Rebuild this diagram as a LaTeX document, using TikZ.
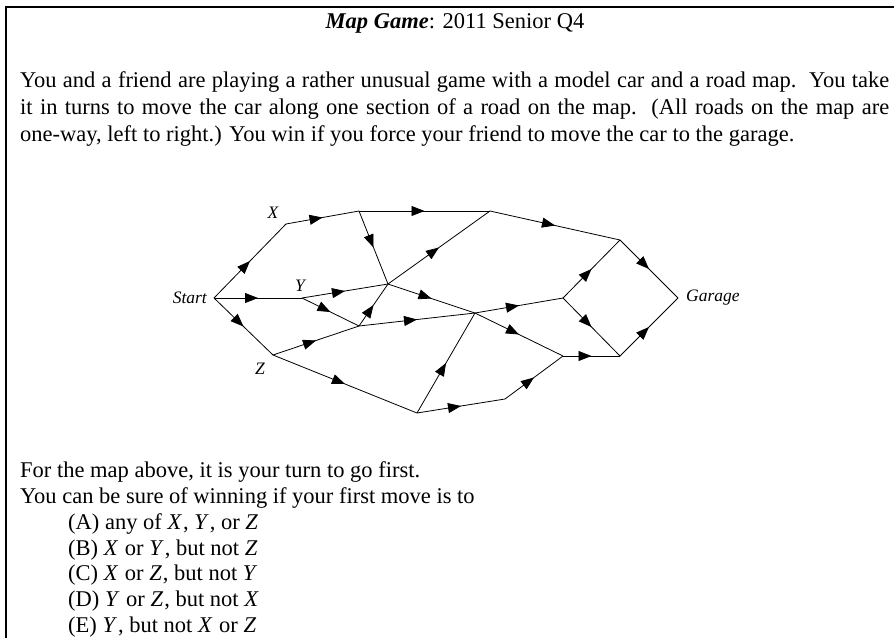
\documentclass[tikz,border=0pt]{standalone}
\usepackage{fontspec}
\setmainfont{Liberation Serif}
\usetikzlibrary{decorations.markings,arrows.meta}
\newcommand{\mv}[1]{\textit{#1}\kern1pt\relax}
\begin{document}
\begin{tikzpicture}[x=1pt,y=-1pt,
  road/.style={line width=0.8pt, postaction={decorate},
    decoration={markings, mark=at position 0.5 with {\arrow{Triangle[length=13pt,width=10pt]}}}},
  lbl/.style={font=\fontsize{17.5}{20}\selectfont\itshape, inner sep=0pt},
  txt/.style={font=\fontsize{22.5}{27}\selectfont, inner sep=0pt, anchor=base west},
  frame/.style={line width=1.2pt}
]
\useasboundingbox (0,0) rectangle (894,638);
\coordinate (fb) at (6,638);
\coordinate (fc) at (6,7);
\coordinate (fr) at (894,7);
\draw[frame] (fb) -- (fc) -- (fr);

% title and text
\node[font=\fontsize{22.5}{27}\selectfont, inner sep=0pt, anchor=base] (title) at (455,28) {\textbf{\textit{Map Game}}: 2011 Senior Q4};
\node[txt] (p1) at (20,87) {\makebox[869pt][s]{You and a friend are playing a rather unusual game with a model car and a road map.\ \ You take}};
\node[txt] (p2) at (20,114) {\makebox[869pt][s]{it in turns to move the car along one section of a road on the map.\ \ (All roads on the map are}};
\node[txt] (p3) at (20,141) {one-way, left to right.) You win if you force your friend to move the car to the garage.};

\node[txt] (q1) at (20,477) {For the map above, it is your turn to go first.};
\node[txt] (q2) at (20,503) {You can be sure of winning if your first move is to};
\node[txt] (oA) at (68,529) {(A) any of \mv{X}, \mv{Y}, or \mv{Z}};
\node[txt] (oB) at (68,555) {(B) \mv{X} or \mv{Y}, but not \mv{Z}};
\node[txt] (oC) at (68,580) {(C) \mv{X} or \mv{Z}, but not \mv{Y}};
\node[txt] (oD) at (68,606) {(D) \mv{Y} or \mv{Z}, but not \mv{X}};
\node[txt] (oE) at (68,632) {(E) \mv{Y}, but not \mv{X} or \mv{Z}};

% vertices
\coordinate (S) at (214,298);
\coordinate (X) at (286,224);
\coordinate (A) at (359,211);
\coordinate (E) at (490,211);
\coordinate (Y) at (302,298);
\coordinate (C) at (388,284);
\coordinate (D) at (359,326);
\coordinate (Z) at (273,355);
\coordinate (B) at (417,413);
\coordinate (K) at (475,313);
\coordinate (L) at (505,399);
\coordinate (H) at (563,298);
\coordinate (J) at (563,356);
\coordinate (F) at (620,240);
\coordinate (I) at (620,356);
\coordinate (G) at (678,298);

% labels
\node[lbl, anchor=east] (lS) at (207,298) {Start};
\node[lbl] (lX) at (273,213) {X};
\node[lbl] (lY) at (300,286) {Y};
\node[lbl] (lZ) at (260,369) {Z};
\node[lbl, anchor=west] (lG) at (686,298) {Garage};

% roads
\draw[road] (S) -- (X);
\draw[road] (S) -- (Y);
\draw[road] (S) -- (Z);
\draw[road] (X) -- (A);
\draw[road] (A) -- (E);
\draw[road] (A) -- (C);
\draw[road] (Y) -- (C);
\draw[road] (Y) -- (D);
\draw[road] (D) -- (C);
\draw[road] (Z) -- (D);
\draw[road] (Z) -- (B);
\draw[road] (C) -- (E);
\draw[road] (C) -- (K);
\draw[road] (D) -- (K);
\draw[road] (B) -- (K);
\draw[road] (B) -- (L);
\draw[road] (K) -- (H);
\draw[road] (K) -- (J);
\draw[road] (L) -- (J);
\draw[road] (E) -- (F);
\draw[road] (H) -- (F);
\draw[road] (H) -- (I);
\draw[road] (J) -- (I);
\draw[road] (F) -- (G);
\draw[road] (I) -- (G);
\end{tikzpicture}
\end{document}
